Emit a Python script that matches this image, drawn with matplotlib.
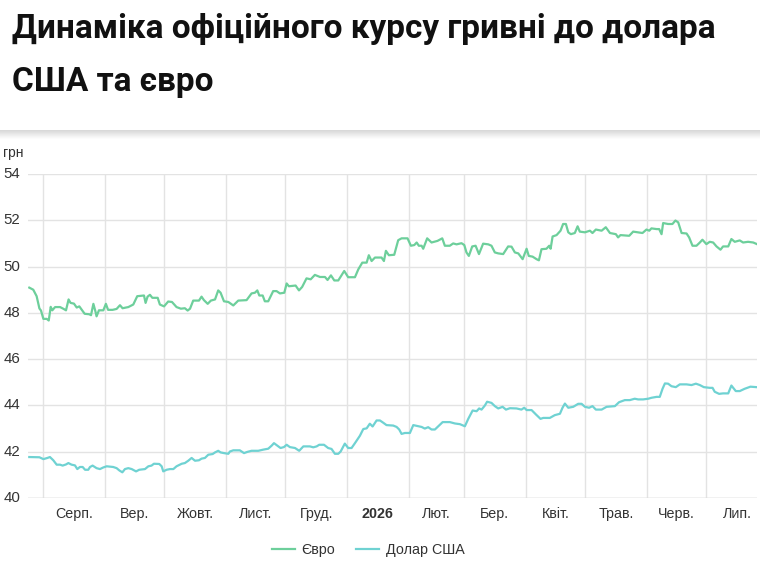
import matplotlib
matplotlib.use("Agg")
import matplotlib.pyplot as plt
import matplotlib.transforms as mtransforms
from datetime import datetime, timedelta
import numpy as np

# ---------------- data ----------------
title_lines = ["Динаміка офіційного курсу гривні до долара", "США та євро"]
unit_label = "грн"
series_names = ["Євро", "Долар США"]
month_labels = ["Серп.", "Вер.", "Жовт.", "Лист.", "Груд.", "2026",
                "Лют.", "Бер.", "Квіт.", "Трав.", "Черв.", "Лип."]
y_ticks = [40, 42, 44, 46, 48, 50, 52, 54]

start_date = datetime(2025, 7, 24, 12)   # day 0 of the series

euro_day = [0.4, 2.4, 4.1, 5.5, 6.3, 7.5, 9.2, 10.2, 11.2, 12.0, 13.4, 15.9, 17.5, 18.9, 20.2,
            21.2, 22.9, 24.3, 25.6, 27.0, 28.3, 30.6, 31.5, 32.7, 33.7, 34.3, 35.5, 37.7, 39.0, 40.1,
            42.4, 44.4, 46.1, 47.4, 50.3, 52.8, 54.8, 58.2, 59.0, 60.0, 61.2, 62.4, 65.1, 66.2, 68.3,
            70.4, 72.3, 74.6, 76.8, 78.8, 80.2, 81.4, 83.0, 85.9, 87.2, 88.4, 90.3, 91.9, 94.0, 95.6,
            96.8, 98.5, 100.7, 103.2, 105.7, 109.9, 112.4, 114.1, 115.3, 116.3, 118.0,
            119.1, 120.8, 123.3, 125.0, 126.7, 128.9, 130.1, 131.2, 134.6, 136.3, 137.9, 140.1, 142.2,
            144.3, 146.9, 149.4, 150.7, 152.4, 154.1, 156.1, 159.1, 161.1, 164.5, 166.2, 168.2, 170.4,
            171.5, 172.9, 174.6, 177.9, 179.1, 180.1, 181.6, 184.3, 186.3, 188.0, 191.0, 192.7, 194.4,
            195.6, 196.7, 198.1, 198.9, 200.9, 203.1, 206.1, 208.5, 209.8, 212.3, 214.0, 215.7, 218.2,
            219.6, 220.7, 221.9, 223.6, 225.3, 227.0, 229.1, 231.7, 233.3, 235.0, 236.7, 239.2, 241.7,
            243.4, 245.1,
            246.8, 249.0, 251.0, 252.1, 254.0, 256.0, 257.2, 258.5, 261.0, 262.4, 263.1, 264.1, 266.1,
            268.1, 269.4, 270.8, 272.0, 273.3, 275.3, 276.7, 277.8, 280.4, 282.9, 284.2, 285.9, 288.8,
            290.9, 293.0, 296.0, 297.1, 298.3, 302.7, 304.7, 307.2, 309.4, 311.4, 312.8, 313.9, 316.5,
            317.8, 319.0, 319.8, 322.3, 324.5, 326.0, 327.4, 329.1, 331.6, 332.9, 334.6, 336.6, 338.3,
            339.6, 341.6, 343.3, 345.0, 346.7, 348.7, 350.0, 352.6, 354.2, 355.9, 358.4, 360.1, 362.6,
            365.2, 366.8]
euro_val = [49.09, 49.0, 48.72, 48.19, 48.1, 47.74, 47.74, 47.67, 48.26, 48.11, 48.25, 48.25, 48.18, 48.11, 48.58,
            48.43, 48.4, 48.23, 48.28, 48.11, 47.96, 47.94, 47.9, 48.39, 48.07, 47.85, 48.11, 48.11, 48.39, 48.13,
            48.13, 48.17, 48.33, 48.2, 48.25, 48.36, 48.72, 48.75, 48.43, 48.7, 48.78, 48.65, 48.65, 48.36, 48.28,
            48.49, 48.47, 48.25, 48.18, 48.2, 48.1, 48.18, 48.53, 48.53, 48.7, 48.55, 48.39, 48.53, 48.58, 48.97,
            48.87, 48.5, 48.47, 48.32, 48.53, 48.55, 48.84, 48.87, 48.97, 48.75, 48.75,
            48.5, 48.5, 48.94, 48.94, 48.84, 48.87, 49.27, 49.15, 49.18, 48.97, 49.12, 49.49, 49.45,
            49.64, 49.55, 49.55, 49.42, 49.62, 49.4, 49.4, 49.81, 49.54, 49.54, 49.88, 50.17, 50.17,
            50.49, 50.24, 50.39, 50.39, 50.24, 50.68, 50.49, 50.51, 51.14, 51.22, 51.22, 50.9, 50.93,
            51.04, 50.9, 50.9, 50.77, 51.22, 51.04, 51.11, 51.22, 50.9, 50.9, 51.0, 50.96, 51.01,
            50.93, 50.61, 50.46, 50.87, 50.9, 50.54, 50.99, 50.96, 50.9, 50.61, 50.57, 50.54, 50.87,
            50.86, 50.61,
            50.57, 50.32, 50.77, 50.46, 50.43, 50.32, 50.27, 50.75, 50.77, 50.9, 50.77, 51.3, 51.36,
            51.55, 51.84, 51.84, 51.48, 51.4, 51.45, 51.74, 51.51, 51.48, 51.55, 51.45, 51.6, 51.55,
            51.7, 51.45, 51.4, 51.26, 51.36, 51.33, 51.51, 51.48, 51.45, 51.6, 51.55, 51.65, 51.62,
            51.62, 51.4, 51.88, 51.84, 51.84, 51.99, 51.91, 51.45, 51.43, 51.26, 50.9, 50.9, 51.04,
            51.16, 50.97, 51.07, 51.04, 50.87, 50.73, 50.87, 50.87, 51.19, 51.07, 51.13, 51.04, 51.07,
            51.04, 50.98]

usd_day = [0.4, 5.5, 7.5, 9.5, 10.8, 12.5, 14.2, 15.9, 17.2, 18.9, 20.1, 21.7, 23.4, 24.6, 25.9,
           27.3, 28.5, 30.1, 31.0, 32.3, 34.3, 36.0, 37.7, 39.4, 42.7, 44.4, 45.8, 47.3, 48.6, 50.3,
           52.0, 54.2, 55.8, 58.7, 60.4, 62.0, 63.2, 65.9, 67.1, 67.9, 69.6, 71.3, 73.0, 74.6, 77.2,
           78.8, 80.5, 82.2, 83.9, 85.9, 87.2, 88.9, 90.6, 92.8, 94.0, 95.6, 96.8, 98.5, 100.7, 101.5,
           103.2, 106.5, 108.6, 110.2, 112.4, 115.8, 118.3, 120.8, 122.5, 123.7, 125.4, 127.0, 128.7,
           130.1, 131.7, 134.3, 136.4, 138.5, 141.8, 143.5, 145.2, 146.5, 148.9, 151.0, 152.7, 154.4,
           156.1, 157.3, 159.4, 161.1, 162.8, 164.5, 167.0, 168.7, 170.4, 172.0, 173.4, 175.4, 177.1,
           178.8, 180.4, 183.8, 185.5, 186.8, 188.0, 189.7, 192.2, 193.9, 196.4, 198.1, 199.7, 201.4,
           203.1, 204.8, 206.5, 208.7, 212.3, 214.9, 217.4, 219.9, 221.6, 223.8, 225.8, 227.1, 228.3,
           230.0, 231.1, 233.3, 235.0, 236.7, 238.9, 240.6, 242.6, 245.9, 248.4, 249.8, 251.0, 253.5,
           255.7, 258.0, 259.4, 262.7, 265.2, 267.8, 269.1, 270.3, 272.0, 274.5, 277.0, 278.7, 280.4,
           282.5, 284.2, 285.9, 288.8, 291.3, 295.5, 297.6, 300.5, 303.0, 305.5, 307.2, 309.7, 312.3,
           313.9, 316.5, 318.1, 319.5, 320.7, 322.3, 324.0, 326.2, 328.2, 331.6, 334.1, 336.3, 338.3,
           340.3, 343.3, 344.7, 345.8, 348.0, 350.0, 352.6, 354.2, 356.4, 358.4, 360.9, 363.8, 366.8]
usd_val = [41.77, 41.76, 41.68, 41.73, 41.77, 41.63, 41.44, 41.44, 41.4, 41.45, 41.51, 41.44, 41.41, 41.25, 41.34,
           41.34, 41.22, 41.22, 41.34, 41.4, 41.29, 41.25, 41.32, 41.37, 41.34, 41.29, 41.19, 41.11, 41.25, 41.29,
           41.25, 41.15, 41.22, 41.25, 41.37, 41.4, 41.48, 41.47, 41.37, 41.15, 41.22, 41.25, 41.25, 41.37, 41.48,
           41.51, 41.61, 41.73, 41.61, 41.63, 41.7, 41.73, 41.87, 41.9, 41.97, 42.04, 41.97, 41.94, 41.91, 42.01,
           42.06, 42.06, 41.94, 41.99, 42.04, 42.04, 42.09, 42.13, 42.26, 42.37, 42.26, 42.16, 42.2,
           42.3, 42.2, 42.16, 42.04, 42.23, 42.23, 42.19, 42.23, 42.3, 42.3, 42.16, 42.12, 41.91,
           41.91, 42.01, 42.35, 42.16, 42.16, 42.37, 42.69, 42.98, 43.01, 43.21, 43.09, 43.35, 43.35,
           43.25, 43.15, 43.13, 43.07, 42.96, 42.77, 42.81, 42.81, 43.15, 43.1, 43.07, 43.0, 43.06,
           42.96, 42.96, 43.1, 43.28, 43.28, 43.22, 43.19, 43.1, 43.42, 43.78, 43.75, 43.87, 43.82,
           44.0, 44.16, 44.11, 43.97, 43.87, 43.94, 43.82, 43.88, 43.87, 43.82, 43.9, 43.8, 43.8,
           43.61, 43.42, 43.46, 43.46, 43.58, 43.64, 43.9, 44.08, 43.9, 43.94, 44.07, 44.07, 43.94,
           43.9, 43.97, 43.82, 43.82, 43.94, 43.97, 44.14, 44.23, 44.23, 44.29, 44.26, 44.26, 44.29,
           44.33, 44.37, 44.37, 44.72, 44.95, 44.94, 44.83, 44.79, 44.91, 44.91, 44.88, 44.94, 44.88,
           44.79, 44.76, 44.76, 44.59, 44.5, 44.52, 44.52, 44.86, 44.62, 44.62, 44.72, 44.81, 44.79]

# ---------------- style ----------------
euro_color = "#6dcf9b"
usd_color = "#6fd2d2"
grid_color = "#e3e3e3"
text_color = "#333333"
W, H = 760, 572

plt.rcParams["font.family"] = ["Liberation Sans", "DejaVu Sans"]

fig = plt.figure(figsize=(W / 100, H / 100), dpi=100)
fig.patch.set_facecolor("white")

# title
fig.text(12 / W, 1 - 38 / H, title_lines[0], fontsize=24, fontweight="bold",
         family=["Roboto", "DejaVu Sans"], color="#111111", va="baseline", ha="left")
fig.text(12 / W, 1 - 91 / H, title_lines[1], fontsize=24, fontweight="bold",
         family=["Roboto", "DejaVu Sans"], color="#111111", va="baseline", ha="left")

# shadow band under the header
sax = fig.add_axes([0, 1 - 139 / H, 1, 9 / H])
grad = np.linspace(0.84, 1.0, 50).reshape(-1, 1)
sax.imshow(np.repeat(grad, 10, axis=1), cmap="gray", vmin=0, vmax=1, aspect="auto",
           interpolation="bicubic")
sax.axis("off")

# main plot
ax = fig.add_axes([28 / W, 1 - 498 / H, 729 / W, 324 / H])
ex = [start_date + timedelta(days=d) for d in euro_day]
ux = [start_date + timedelta(days=d) for d in usd_day]
l1, = ax.plot(ex, euro_val, color=euro_color, lw=1.6, solid_joinstyle="round", zorder=3)
l2, = ax.plot(ux, usd_val, color=usd_color, lw=1.6, solid_joinstyle="round", zorder=3)

ax.set_ylim(y_ticks[0], y_ticks[-1])
ax.set_xlim(start_date - timedelta(days=0.25), start_date + timedelta(days=367.1))

month_starts = [datetime(2025, m, 1) for m in range(8, 13)] + \
               [datetime(2026, m, 1) for m in range(1, 9)]
for ms in month_starts[:-1]:
    ax.axvline(ms, color=grid_color, lw=1, zorder=0)
for yv in y_ticks:
    ax.axhline(yv, color=grid_color, lw=1, zorder=0)
ax.axhline(y_ticks[0], color="#d5d5d5", lw=1, zorder=1)

ax.set_xticks([])
ax.set_yticks([])
for s in ax.spines.values():
    s.set_visible(False)

# month labels (mid-month)
tx = mtransforms.blended_transform_factory(ax.transData, fig.transFigure)
for i, lab in enumerate(month_labels):
    mid = month_starts[i] + (month_starts[i + 1] - month_starts[i]) / 2
    ax.text(mid, 1 - 514 / H, lab, transform=tx, ha="center", va="center",
            fontsize=10.3, color=text_color,
            fontweight="bold" if lab == "2026" else "normal", clip_on=False)

# y labels
ty = mtransforms.blended_transform_factory(fig.transFigure, ax.transData)
for yv in y_ticks:
    ax.text(3.5 / W, yv, str(yv), transform=ty, ha="left", va="center",
            fontsize=10.8, color=text_color, clip_on=False)
fig.text(3.5 / W, 1 - 153 / H, unit_label, ha="left", va="center", fontsize=10, color=text_color)

# legend
fig.legend([l1, l2], series_names, loc="center", bbox_to_anchor=(368 / W, 1 - 550 / H),
           ncol=2, frameon=False, handlelength=1.6, handletextpad=0.45, columnspacing=1.5,
           prop={"size": 10.3}, labelcolor=text_color)

fig.savefig("out.png", dpi=100, facecolor="white")
